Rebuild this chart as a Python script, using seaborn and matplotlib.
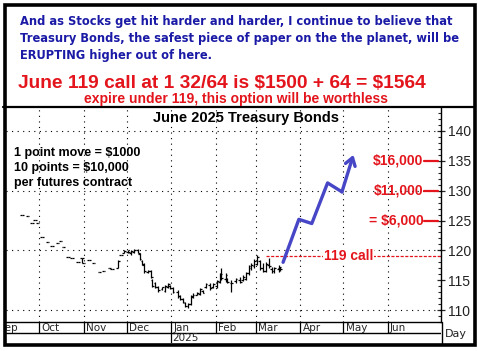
import matplotlib
matplotlib.use("Agg")
import matplotlib.pyplot as plt
from matplotlib.patches import Rectangle
from matplotlib.lines import Line2D
import pandas as pd
import seaborn as sns

# daily bars, June 2025 T-bond futures
bar_dates = [
    "2024-09-19", "2024-09-23", "2024-09-26", "2024-09-28", "2024-09-30",
    "2024-10-03", "2024-10-07", "2024-10-10", "2024-10-14", "2024-10-16",
    "2024-10-18", "2024-10-21", "2024-10-24", "2024-10-28", "2024-10-31",
    "2024-11-01", "2024-11-05", "2024-11-08", "2024-11-12", "2024-11-15",
    "2024-11-19", "2024-11-21", "2024-11-25", "2024-11-27", "2024-11-29",
    "2024-12-02", "2024-12-04", "2024-12-06", "2024-12-09", "2024-12-10",
    "2024-12-12", "2024-12-13", "2024-12-16", "2024-12-18", "2024-12-19",
    "2024-12-21", "2024-12-23", "2024-12-26", "2024-12-28", "2024-12-30",
    "2024-12-31", "2025-01-02", "2025-01-06", "2025-01-07", "2025-01-09",
    "2025-01-11", "2025-01-13", "2025-01-15", "2025-01-16", "2025-01-19",
    "2025-01-21", "2025-01-23", "2025-01-25", "2025-01-28", "2025-01-30",
    "2025-02-02", "2025-02-04", "2025-02-05", "2025-02-08", "2025-02-09",
    "2025-02-12", "2025-02-15", "2025-02-18", "2025-02-20", "2025-02-22",
    "2025-02-24", "2025-02-26", "2025-02-28", "2025-03-02", "2025-03-04",
    "2025-03-06", "2025-03-08", "2025-03-10", "2025-03-12", "2025-03-14",
    "2025-03-17", "2025-03-18",
]
bar_open = [
    125.9, 125.7, 124.6, 125.1, 124.6, 122.2, 121.4, 120.7, 121.2, 121.6,
    120.6, 118.9, 118.7, 118.0, 118.7, 117.9, 118.4, 117.9, 116.4, 116.5,
    117.0, 116.9, 117.0, 119.2, 119.6, 119.8, 119.6, 119.8, 120.0, 119.4,
    118.3, 117.6, 116.4, 116.5, 115.0, 114.5, 113.8, 113.5, 113.2, 113.9,
    114.0, 113.7, 113.1, 112.3, 111.8, 111.2, 110.6, 111.0, 112.2, 112.6,
    112.7, 113.2, 113.8, 114.2, 113.9, 114.0, 114.7, 116.0, 115.2, 115.2,
    114.5, 114.8, 115.0, 115.0, 115.2, 116.2, 117.0, 117.3, 117.8, 118.2,
    117.0, 116.6, 117.5, 116.9, 116.5, 116.8, 117.0,
]
bar_high = [
    125.9, 125.7, 124.6, 125.1, 124.6, 122.2, 121.4, 120.7, 121.2, 121.6,
    120.6, 118.9, 118.7, 118.0, 118.7, 117.9, 118.4, 117.9, 116.4, 116.5,
    117.0, 116.9, 118.4, 119.2, 120.0, 120.0, 120.0, 120.2, 120.2, 119.5,
    118.4, 117.9, 116.7, 116.7, 115.2, 114.7, 114.0, 113.9, 114.2, 114.5,
    114.2, 113.9, 113.4, 112.5, 112.0, 111.3, 111.2, 112.5, 112.8, 113.0,
    113.7, 113.4, 114.5, 114.5, 114.5, 115.0, 116.2, 117.0, 116.2, 115.4,
    115.0, 115.4, 115.5, 115.8, 116.4, 117.5, 117.9, 118.5, 119.2, 118.4,
    117.9, 118.0, 118.7, 117.2, 117.2, 117.5, 117.2,
]
bar_low = [
    125.9, 125.7, 124.6, 125.1, 124.6, 122.2, 121.4, 120.7, 121.2, 121.6,
    120.6, 118.9, 118.7, 118.0, 117.9, 117.9, 118.4, 117.9, 116.4, 116.5,
    117.0, 116.9, 117.0, 119.2, 119.5, 119.5, 119.3, 119.5, 119.5, 118.4,
    117.5, 116.2, 116.2, 115.4, 113.9, 113.7, 113.0, 113.4, 113.0, 113.7,
    113.5, 112.8, 112.0, 111.7, 111.2, 110.5, 110.3, 110.8, 112.0, 112.5,
    112.5, 112.8, 113.7, 113.4, 113.7, 113.7, 114.5, 115.0, 114.7, 114.5,
    113.0, 114.5, 114.5, 114.8, 115.0, 115.9, 116.7, 117.0, 117.5, 116.7,
    116.4, 116.4, 117.0, 116.2, 116.2, 116.4, 116.6,
]
bar_close = [
    125.9, 125.7, 124.6, 125.1, 124.6, 122.2, 121.4, 120.7, 121.2, 121.6,
    120.6, 118.9, 118.7, 118.0, 118.7, 117.9, 118.4, 117.9, 116.4, 116.5,
    117.0, 116.9, 118.2, 119.2, 119.9, 119.7, 119.9, 120.0, 119.6, 118.6,
    117.7, 116.5, 116.6, 115.6, 114.1, 113.9, 113.3, 113.8, 114.0, 114.3,
    113.7, 113.0, 112.3, 111.9, 111.4, 110.7, 111.0, 112.3, 112.6, 112.9,
    113.5, 112.9, 114.3, 113.7, 114.3, 114.8, 116.0, 115.3, 115.8, 114.7,
    114.6, 115.2, 114.7, 115.5, 116.2, 117.3, 117.6, 118.2, 118.9, 117.0,
    116.6, 117.8, 117.3, 116.5, 117.0, 117.2, 116.9,
]

# projected path (blue arrow)
path_dates = ["2025-03-20", "2025-03-31", "2025-04-09", "2025-04-20", "2025-04-30", "2025-05-08"]
path_values = [118.0, 125.2, 124.5, 131.3, 129.8, 136.0]

strike = 119
strike_from = "2025-03-08"
payoff_levels = [135, 130, 125]
payoff_labels = ["$16,000", "$11,000", "= $6,000"]

month_starts = ["2024-09-01", "2024-10-01", "2024-11-01", "2024-12-01", "2025-01-01",
                "2025-02-01", "2025-03-01", "2025-04-01", "2025-05-01", "2025-06-01"]
month_names = ["Sep", "Oct", "Nov", "Dec", "Jan", "Feb", "Mar", "Apr", "May", "Jun"]
y_ticks = [110, 115, 120, 125, 130, 135, 140]

BLUE = "#1a1aa6"
RED = "#e3141b"
ARROW = "#4646c6"

sns.set_theme(style="white")
plt.rcParams["font.family"] = ["Liberation Sans", "DejaVu Sans"]
plt.rcParams["text.parse_math"] = False

W, H = 478, 351
fig = plt.figure(figsize=(W / 100, H / 100), dpi=100)
fig.patch.set_facecolor("white")


def fx(px):
    return px / W


def fy(py):
    return 1 - py / H


# main price panel
ax = fig.add_axes([fx(6), fy(322), fx(441) - fx(6), fy(108) - fy(322)])
x0, x1 = pd.Timestamp("2024-09-08"), pd.Timestamp("2025-07-08")
ax.set_xlim(x0, x1)
ax.set_ylim(108.0, 143.85)

df = pd.DataFrame({
    "date": pd.to_datetime(bar_dates), "open": bar_open, "high": bar_high,
    "low": bar_low, "close": bar_close,
})
tick = pd.Timedelta(hours=30)
ax.vlines(df["date"], df["low"], df["high"], color="black", lw=0.9)
ax.hlines(df["open"], df["date"] - tick, df["date"], color="black", lw=0.9)
ax.hlines(df["close"], df["date"], df["date"] + tick, color="black", lw=0.9)

# dotted grid
for m in month_starts[1:]:
    ax.axvline(pd.Timestamp(m), color="black", lw=0.8, ls=(0, (1, 4)))
for v in [110, 120, 130, 140]:
    ax.axhline(v, color="black", lw=0.8, ls=(0, (1, 4)))

# 119 call line
ax.hlines(strike, pd.Timestamp(strike_from), x1, color=RED, lw=0.9, ls=(0, (2.5, 1.2)))
ax.text(0.788, strike, "119 call", transform=ax.get_yaxis_transform(), ha="center",
        va="center", color=RED, fontsize=10, fontweight="bold",
        bbox=dict(facecolor="white", edgecolor="none", pad=0.6))

# payoff labels
for lev, lab in zip(payoff_levels, payoff_labels):
    ax.text(0.96, lev, lab, transform=ax.get_yaxis_transform(), ha="right", va="center",
            color=RED, fontsize=10, fontweight="bold")
    ax.plot([0.962, 0.992], [lev, lev], transform=ax.get_yaxis_transform(), color=RED, lw=1.6)

# projected move
path = pd.DataFrame({"date": pd.to_datetime(path_dates), "value": path_values})
sns.lineplot(data=path.iloc[:-1], x="date", y="value", sort=False, estimator=None,
             color=ARROW, lw=2.4, ax=ax)
ax.annotate("", xy=(path["date"].iloc[-1], path_values[-1]),
            xytext=(path["date"].iloc[-2], path_values[-2]),
            arrowprops=dict(arrowstyle="->,head_length=0.45,head_width=0.3",
                            color=ARROW, lw=2.4, shrinkA=0, shrinkB=0))

ax.text(0.552, 0.955, "June 2025 Treasury Bonds", transform=ax.transAxes, ha="center",
        va="center", fontsize=10.5, fontweight="bold", color="black")
for i, line in enumerate(["1 point move = $1000", "10 points = $10,000", "per futures contract"]):
    ax.text(0.018, 0.79 - i * 0.07, line, transform=ax.transAxes, ha="left", va="center",
            fontsize=9, fontweight="bold", color="black")

ax.set_xlabel("")
ax.set_ylabel("")
ax.set_xticks([])
ax.yaxis.tick_right()
ax.set_yticks(y_ticks)
ax.set_yticklabels([str(t) for t in y_ticks], fontsize=10, color="#222222")
ax.set_yticks(range(108, 144), minor=True)
ax.tick_params(axis="y", which="major", direction="inout", length=6, width=0.9, pad=2,
               right=True, left=False)
ax.tick_params(axis="y", which="minor", direction="in", length=2.5, width=0.8,
               right=True, left=False)
for s in ["top", "left"]:
    ax.spines[s].set_visible(False)
ax.spines["right"].set_color("black")
ax.spines["right"].set_linewidth(1)
ax.spines["bottom"].set_color("black")
ax.spines["bottom"].set_linewidth(1)

# month label band
band = fig.add_axes([fx(6), fy(343), fx(441) - fx(6), fy(322) - fy(343)])
band.set_xlim(x0, x1)
band.set_ylim(0, 2)
band.axis("off")
band.axhline(1, color="black", lw=1)
for m, name in zip(month_starts, month_names):
    t = pd.Timestamp(m)
    band.vlines(t, 1, 2, color="black", lw=0.9)
    band.text(t + pd.Timedelta(days=1.5), 1.45, name, ha="left", va="center",
              fontsize=7.5, family="DejaVu Sans", clip_on=True)
band.vlines(pd.Timestamp("2025-01-01"), 0, 1, color="black", lw=0.9)
band.text(pd.Timestamp("2025-01-01") + pd.Timedelta(days=1), 0.45, "2025", ha="left",
          va="center", fontsize=7.5, family="DejaVu Sans")

# right column lines
fig.add_artist(Line2D([fx(441.5), fx(441.5)], [fy(322), fy(345)], color="black", lw=1))
fig.text(fx(456), fy(334), "Day", ha="center", va="center", fontsize=8, color="#222222",
         family="DejaVu Sans")

# header text
head = ["And as Stocks get hit harder and harder, I continue to believe that",
        "Treasury Bonds, the safest piece of paper on the the planet, will be",
        "ERUPTING higher out of here."]
for i, line in enumerate(head):
    fig.text(fx(20), fy(22 + i * 16.5), line, ha="left", va="center", fontsize=8.3,
             fontweight="bold", color=BLUE, family="DejaVu Sans")
fig.text(fx(18), fy(83), "June 119 call at 1 32/64 is $1500 + 64 = $1564", ha="left",
         va="center", fontsize=13.8, fontweight="bold", color=RED)
fig.text(fx(236), fy(98.5), "expire under 119, this option will be worthless", ha="center",
         va="center", fontsize=10, fontweight="bold", color=RED)

# separator and outer frame
fig.add_artist(Line2D([fx(3), fx(475)], [fy(107), fy(107)], color="black", lw=1.6))
fig.add_artist(Rectangle((fx(4.5), fy(345)), fx(470) - fx(0), fy(5) - fy(345),
                         transform=fig.transFigure, fill=False, edgecolor="black", lw=2.6))

fig.savefig("out.png", dpi=100)
